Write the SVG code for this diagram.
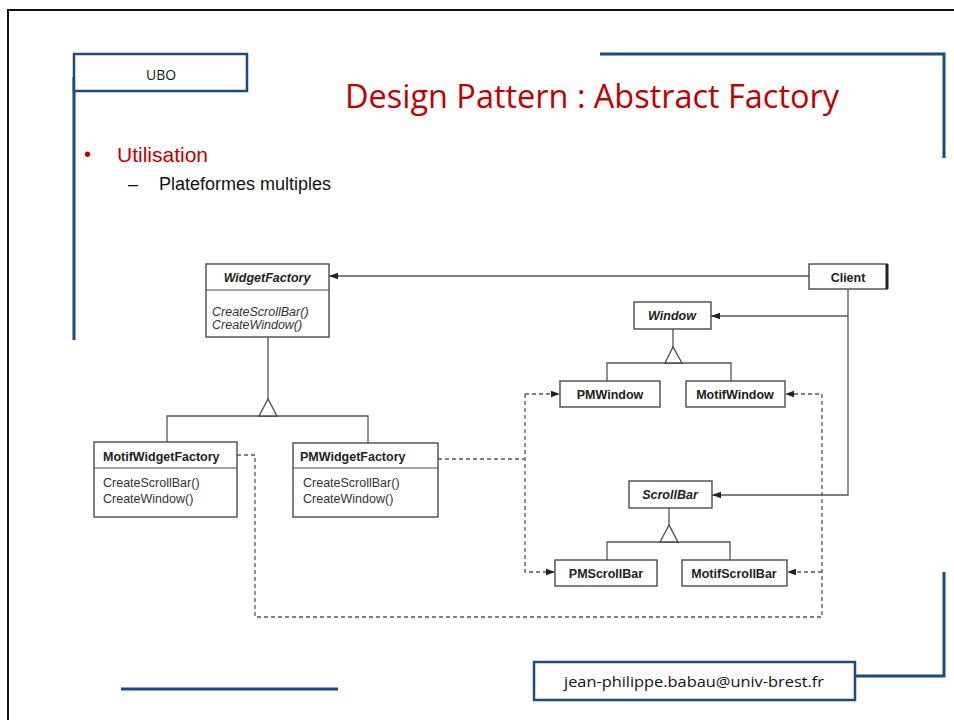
<svg xmlns="http://www.w3.org/2000/svg" width="954" height="720" viewBox="0 0 954 720">
  <style>
    .frame { fill: none; stroke: #1f4a7e; stroke-width: 3; }
    .box { fill: #ffffff; stroke: #4a4a4a; stroke-width: 1.4; }
    .sep { stroke: #4a4a4a; stroke-width: 1.2; }
    .link { fill: none; stroke: #555; stroke-width: 1.3; }
    .dash { fill: none; stroke: #555; stroke-width: 1.3; stroke-dasharray: 4 3; }
    .tri { fill: #ffffff; stroke: #4a4a4a; stroke-width: 1.3; }
    .cls { font-family: "Liberation Sans", Arial, sans-serif; font-size: 12.5px; font-weight: bold; fill: #222; }
    .abs { font-style: italic; }
    .op { font-family: "Liberation Sans", Arial, sans-serif; font-size: 12.5px; fill: #333; }
    .mid { text-anchor: middle; }
    .cal { font-family: "Open Sans", "Liberation Sans", sans-serif; }
  </style>
  <defs>
    <marker id="arrow" markerUnits="userSpaceOnUse" markerWidth="10" markerHeight="8" refX="9" refY="4" orient="auto">
      <path d="M0,0.8 L9,4 L0,7.2 Z" fill="#222"/>
    </marker>
  </defs>

  <!-- slide frame -->
  <path d="M8,720 V10 H954" fill="none" stroke="#111" stroke-width="2"/>
  <path class="frame" d="M74,77 V340"/>
  <path class="frame" d="M600,54 H944 V158"/>
  <path class="frame" d="M855,676 H944 V572"/>
  <path class="frame" d="M121,689 H338"/>

  <g id="ubo">
    <rect x="74" y="54" width="173" height="37" fill="#fff" stroke="#1f4a7e" stroke-width="2.5"/>
    <text x="161" y="80" class="cal mid" font-size="14" fill="#111">UBO</text>
  </g>

  <g id="title">
    <text x="345" y="108" class="cal" font-size="32" fill="#c00000" textLength="494" lengthAdjust="spacingAndGlyphs">Design Pattern : Abstract Factory</text>
  </g>

  <g id="bullets">
    <text x="84" y="161" font-family="Liberation Sans, Arial, sans-serif" font-size="20" fill="#c00000">•</text>
    <text x="117" y="162" font-family="Liberation Sans, Arial, sans-serif" font-size="21" fill="#c00000">Utilisation</text>
    <text x="128" y="190" font-family="Liberation Sans, Arial, sans-serif" font-size="18" fill="#111">–</text>
    <text x="159" y="190" font-family="Liberation Sans, Arial, sans-serif" font-size="18" fill="#111">Plateformes multiples</text>
  </g>

  <!-- connectors -->
  <g id="connectors">
    <path class="link" d="M809,276 H329" marker-end="url(#arrow)"/>
    <path class="link" d="M848,289 V495 H712" marker-end="url(#arrow)"/>
    <path class="link" d="M848,316 H711" marker-end="url(#arrow)"/>

    <!-- WidgetFactory generalization -->
    <path class="link" d="M268,337 V399 M167,442 V416 H368 V443"/>
    <path class="tri" d="M268,399 L259,416 L277,416 Z"/>
    <!-- Window generalization -->
    <path class="link" d="M673,329 V347 M607,381 V363 H731 V381"/>
    <path class="tri" d="M673,347 L665,363 L682,363 Z"/>
    <!-- ScrollBar generalization -->
    <path class="link" d="M669,508 V525 M607,560 V542 H730 V560"/>
    <path class="tri" d="M669,525 L660,542 L678,542 Z"/>

    <!-- creation dependencies -->
    <path class="dash" d="M237,455 H255 V617 H822 V394 H785" marker-end="url(#arrow)"/>
    <path class="dash" d="M822,572 H787" marker-end="url(#arrow)"/>
    <path class="dash" d="M438,459 H525 M525,394 V572 H555" marker-end="url(#arrow)"/>
    <path class="dash" d="M525,394 H560" marker-end="url(#arrow)"/>
  </g>

  <g id="widgetfactory">
    <rect class="box" x="206" y="264" width="123" height="73"/>
    <line class="sep" x1="206" y1="290" x2="329" y2="290"/>
    <text x="267" y="282" class="cls abs mid">WidgetFactory</text>
    <text x="212" y="316" class="op abs" font-size="13.4">CreateScrollBar()</text>
    <text x="212" y="329" class="op abs" font-size="13.4">CreateWindow()</text>
  </g>

  <g id="motifwidgetfactory">
    <rect class="box" x="94" y="442" width="143" height="75"/>
    <line class="sep" x1="94" y1="468" x2="237" y2="468"/>
    <text x="103" y="461" class="cls">MotifWidgetFactory</text>
    <text x="103" y="487" class="op">CreateScrollBar()</text>
    <text x="103" y="503" class="op">CreateWindow()</text>
  </g>

  <g id="pmwidgetfactory">
    <rect class="box" x="293" y="443" width="145" height="74"/>
    <line class="sep" x1="293" y1="468" x2="438" y2="468"/>
    <text x="300" y="461" class="cls">PMWidgetFactory</text>
    <text x="303" y="487" class="op">CreateScrollBar()</text>
    <text x="303" y="503" class="op">CreateWindow()</text>
  </g>

  <g id="client">
    <rect class="box" x="809" y="264" width="78" height="25"/>
    <line x1="887" y1="264" x2="887" y2="289" stroke="#222" stroke-width="3"/>
    <text x="848" y="282" class="cls mid">Client</text>
  </g>

  <g id="window">
    <rect class="box" x="634" y="302" width="77" height="27"/>
    <text x="672" y="320" class="cls abs mid">Window</text>
  </g>

  <g id="pmwindow">
    <rect class="box" x="560" y="381" width="100" height="26"/>
    <text x="610" y="399" class="cls mid">PMWindow</text>
  </g>

  <g id="motifwindow">
    <rect class="box" x="686" y="381" width="99" height="26"/>
    <text x="735" y="399" class="cls mid">MotifWindow</text>
  </g>

  <g id="scrollbar">
    <rect class="box" x="629" y="481" width="83" height="27"/>
    <text x="670" y="499" class="cls abs mid">ScrollBar</text>
  </g>

  <g id="pmscrollbar">
    <rect class="box" x="555" y="560" width="102" height="26"/>
    <text x="606" y="578" class="cls mid">PMScrollBar</text>
  </g>

  <g id="motifscrollbar">
    <rect class="box" x="682" y="560" width="105" height="26"/>
    <text x="734" y="578" class="cls mid">MotifScrollBar</text>
  </g>

  <g id="email">
    <rect x="534" y="662" width="321" height="38" fill="#fff" stroke="#1f4a7e" stroke-width="2.5"/>
    <text x="694" y="687" class="cal mid" font-size="15" fill="#111" textLength="260" lengthAdjust="spacingAndGlyphs">jean-philippe.babau@univ-brest.fr</text>
  </g>
</svg>
